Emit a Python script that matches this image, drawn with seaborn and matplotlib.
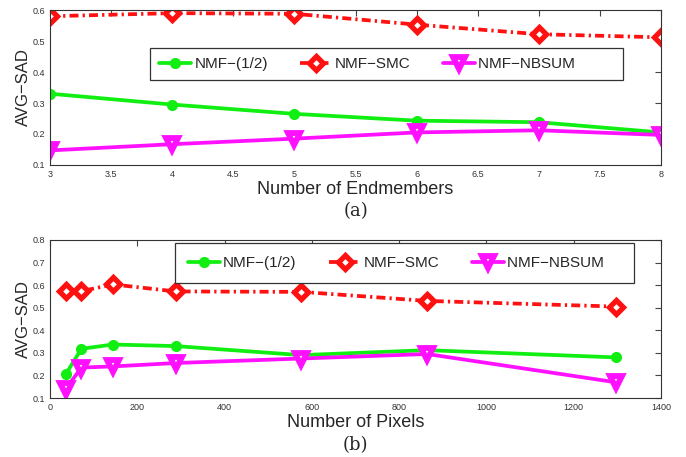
import numpy as np
import pandas as pd
import matplotlib
matplotlib.use("Agg")
import matplotlib.pyplot as plt
import seaborn as sns

# --- datos ---
endmembers = [3, 4, 5, 6, 7, 8]
half_a = [0.330, 0.295, 0.265, 0.243, 0.238, 0.205]
smc_a = [0.580, 0.590, 0.588, 0.553, 0.522, 0.512]
nbsum_a = [0.147, 0.167, 0.185, 0.205, 0.212, 0.197]

pixels = [36, 72, 144, 288, 576, 864, 1296]
half_b = [0.205, 0.318, 0.337, 0.330, 0.290, 0.312, 0.280]
smc_b = [0.575, 0.573, 0.603, 0.572, 0.570, 0.530, 0.505]
nbsum_b = [0.140, 0.235, 0.240, 0.255, 0.275, 0.295, 0.170]

labels = ["NMF\u2212(1/2)", "NMF\u2212SMC", "NMF\u2212NBSUM"]

sns.set_style("white")
plt.rcParams['font.family'] = ['Liberation Sans', 'DejaVu Sans']

estilos = [
    dict(color="#11ee11", marker="o", linestyle="-", markersize=7, mfc="#11ee11", mew=1),
    dict(color="#ff1111", marker="D", linestyle=(0, (2.4, 1.1, 0.6, 1.1)), markersize=7.5, mfc="white", mew=3.8),
    dict(color="#ff11ff", marker="v", linestyle="-", markersize=9, mfc="white", mew=4.2),
]


def panel(ax, x, series, xlabel, letra):
    for y, lab, st in zip(series, labels, estilos):
        df = pd.DataFrame({"x": x, "y": y})
        sns.lineplot(data=df, x="x", y="y", ax=ax, label=lab, linewidth=2.7,
                     color=st["color"], marker=st["marker"], linestyle=st["linestyle"],
                     markersize=st["markersize"], markerfacecolor=st["mfc"],
                     markeredgecolor=st["color"], markeredgewidth=st["mew"])
    ax.set_ylabel("AVG\u2212SAD", fontsize=12)
    ax.yaxis.set_label_coords(-0.031, 0.5)
    ax.set_xlabel(xlabel, fontsize=13, labelpad=1.5)
    ax.tick_params(direction="in", labelsize=6.5, labelcolor="#333333", top=True, right=True,
                   length=4, pad=3.5, color="#444444")
    for s in ax.spines.values():
        s.set_color("#333333")
        s.set_linewidth(0.8)
    ax.text(0.5, -0.295, letra, transform=ax.transAxes, ha="center", va="center",
            fontsize=13, family="DejaVu Serif")


def leyenda(ax, x0, y0, pad, hueco):
    handles, labs = ax.get_legend_handles_labels()
    # MATLAB deja un hueco a la derecha del recuadro
    labs[-1] = labs[-1] + "\u00a0" * hueco
    leg = ax.legend(handles, labs, loc="upper left", bbox_to_anchor=(x0, y0),
                    borderaxespad=0, ncol=3, fontsize=11, frameon=True, fancybox=False,
                    edgecolor="#333333", framealpha=1, handlelength=2.1,
                    columnspacing=2.1, handletextpad=0.2, borderpad=pad)
    leg.get_frame().set_linewidth(0.9)


fig = plt.figure(figsize=(6.86, 4.57), dpi=100)
ax1 = fig.add_axes([0.0729, 0.639, 0.8907, 0.339])
ax2 = fig.add_axes([0.0729, 0.129, 0.8907, 0.346])

panel(ax1, endmembers, [half_a, smc_a, nbsum_a], "Number of Endmembers", "(a)")
ax1.set_xlim(3, 8)
ax1.set_ylim(0.1, 0.6)
ax1.set_xticks(np.arange(3, 8.01, 0.5))
ax1.set_xticklabels(["3", "3.5", "4", "4.5", "5", "5.5", "6", "6.5", "7", "7.5", "8"])
ax1.set_yticks([0.1, 0.2, 0.3, 0.4, 0.5, 0.6])
leyenda(ax1, 0.164, 0.755, 0.6, 9)

panel(ax2, pixels, [half_b, smc_b, nbsum_b], "Number of Pixels", "(b)")
ax2.set_xlim(0, 1400)
ax2.set_ylim(0.1, 0.8)
ax2.set_xticks(range(0, 1401, 200))
ax2.set_yticks([0.1, 0.2, 0.3, 0.4, 0.5, 0.6, 0.7, 0.8])
leyenda(ax2, 0.2046, 0.981, 0.85, 4)

fig.savefig("out.png", dpi=100)
